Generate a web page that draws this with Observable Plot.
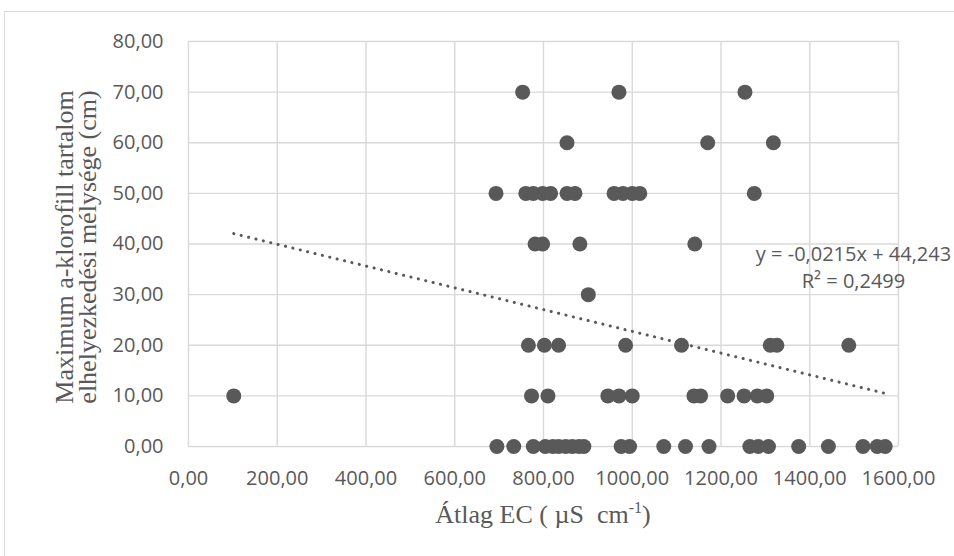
<!DOCTYPE html>
<html><head><meta charset="utf-8">
<script src="https://cdn.jsdelivr.net/npm/d3@7"></script>
<script src="https://cdn.jsdelivr.net/npm/@observablehq/plot@0.6"></script>
<style>
html,body{margin:0;padding:0;background:#fff;overflow:hidden;}
#wrap{position:relative;width:954px;height:556px;overflow:hidden;}
#border{position:absolute;left:4px;top:11px;width:1000px;height:600px;border-left:1px solid #d9d9d9;border-top:1px solid #d9d9d9;pointer-events:none;}
#chart{position:absolute;left:0;top:0;}
</style></head><body>
<div id="wrap"><div id="chart"></div><div id="border"></div></div>
<script>
// EC values (µS cm-1) grouped by depth (cm)
const ecDepth0  = [695, 733, 777, 804, 821, 834, 850, 865, 880, 891, 975, 994, 1071, 1120, 1173, 1265, 1284, 1307, 1375, 1442, 1520, 1552, 1570];
const ecDepth10 = [102, 773, 810, 945, 970, 1000, 1139, 1154, 1215, 1252, 1282, 1303];
const ecDepth20 = [766, 802, 834, 985, 1111, 1311, 1326, 1488];
const ecDepth30 = [901];
const ecDepth40 = [781, 798, 882, 1141];
const ecDepth50 = [693, 760, 777, 798, 816, 853, 871, 959, 979, 1000, 1017, 1275];
const ecDepth60 = [853, 1170, 1318];
const ecDepth70 = [753, 970, 1254];
const depthLevels = [0, 10, 20, 30, 40, 50, 60, 70];

const trendSlope = -0.0215;
const trendIntercept = 44.243;
const eqLine1 = "y = -0,0215x + 44,243";
const eqLine2 = "R² = 0,2499";

const xTicks = [0, 200, 400, 600, 800, 1000, 1200, 1400, 1600];
const yTicks = [0, 10, 20, 30, 40, 50, 60, 70, 80];
const xTitle = ["Átlag EC ( µS  cm", "-1", ")"];
const yTitle = ["Maximum a-klorofill tartalom", "elhelyezkedési mélysége (cm)"];

const groups = [ecDepth0, ecDepth10, ecDepth20, ecDepth30, ecDepth40, ecDepth50, ecDepth60, ecDepth70];
const points = groups.flatMap((g, i) => g.map(ec => ({ec, depth: depthLevels[i]})));
const xMin = d3.min(points, d => d.ec), xMax = d3.max(points, d => d.ec);
const trend = [xMin, xMax].map(x => ({ec: x, depth: trendSlope * x + trendIntercept}));

const fmt = d => d.toFixed(2).replace(".", ",");
const grey = "#595959";

const W = 954, H = 556, mL = 188, mR = 56, mT = 41, mB = 110;

const chart = Plot.plot({
  width: W, height: H,
  marginLeft: mL, marginRight: mR, marginTop: mT, marginBottom: mB,
  x: {domain: [0, 1600]},
  y: {domain: [0, 80]},
  style: {fontFamily: "'Open Sans', sans-serif", fontSize: "20px", color: grey, background: "transparent", overflow: "visible"},
  marks: [
    Plot.gridX(xTicks, {stroke: "#d9d9d9", strokeOpacity: 1, strokeWidth: 1.4}),
    Plot.gridY(yTicks, {stroke: "#d9d9d9", strokeOpacity: 1, strokeWidth: 1.4}),
    Plot.axisX(xTicks, {tickSize: 0, tickPadding: 24, tickFormat: fmt, label: null, fontSize: 20}),
    Plot.axisY(yTicks, {tickSize: 0, tickPadding: 25, tickFormat: fmt, label: null, fontSize: 20}),
    Plot.line(trend, {x: "ec", y: "depth", stroke: grey, strokeWidth: 3, strokeDasharray: "0.1,7.5", strokeLinecap: "round"}),
    Plot.dot(points, {x: "ec", y: "depth", r: 7.5, fill: grey}),
    Plot.text([eqLine1], {frameAnchor: "right", dx: -45, dy: 11, textAnchor: "middle", lineAnchor: "middle", fontSize: 20, fill: grey}),
    Plot.text([eqLine2], {frameAnchor: "right", dx: -45, dy: 38, textAnchor: "middle", lineAnchor: "middle", fontSize: 20, fill: grey})
  ]
});

const svg = d3.select(chart);
const serif = "'Liberation Serif', 'Times New Roman', serif";
const xt = svg.append("text")
  .attr("x", (mL + (W - mR)) / 2).attr("y", 523)
  .attr("text-anchor", "middle")
  .attr("font-family", serif).attr("font-size", 26).attr("fill", grey)
  .style("white-space", "pre");
xt.append("tspan").text(xTitle[0]);
xt.append("tspan").attr("font-size", 16).attr("dy", -10).text(xTitle[1]);
xt.append("tspan").attr("dy", 10).text(xTitle[2]);

yTitle.forEach((t, i) => {
  svg.append("text")
    .attr("transform", `translate(${73 + i * 23},247) rotate(-90)`)
    .attr("text-anchor", "middle")
    .attr("font-family", serif).attr("font-size", 26).attr("fill", grey)
    .text(t);
});

document.getElementById("chart").appendChild(chart);
</script>
</body></html>
